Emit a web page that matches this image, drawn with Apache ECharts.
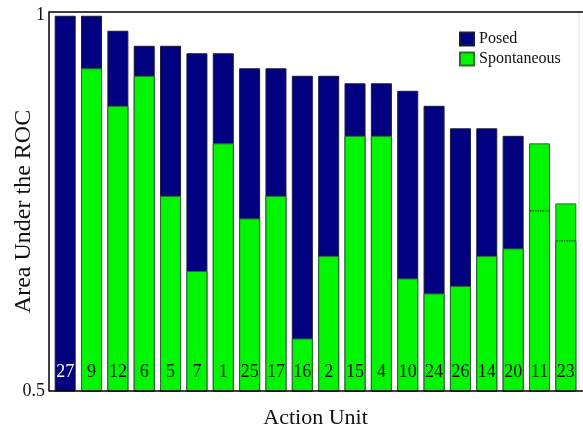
<!DOCTYPE html>
<html>
<head>
<meta charset="utf-8">
<script src="https://cdn.jsdelivr.net/npm/echarts@6/dist/echarts.min.js"></script>
<style>
  html, body { margin: 0; padding: 0; background: #fff; }
  #chart { width: 583px; height: 430px; }
</style>
</head>
<body>
<div id="chart"></div>
<script>
// Action units, sorted by posed AUC
const actionUnits = ['27', '9', '12', '6', '5', '7', '1', '25', '17', '16', '2', '15', '4', '10', '24', '26', '14', '20', '11', '23'];
const posedAUC = [1.00, 1.00, 0.98, 0.96, 0.96, 0.95, 0.95, 0.93, 0.93, 0.92, 0.92, 0.91, 0.91, 0.90, 0.88, 0.85, 0.85, 0.84, 0.74, 0.70];
const spontaneousAUC = [null, 0.93, 0.88, 0.92, 0.76, 0.66, 0.83, 0.73, 0.76, 0.57, 0.68, 0.84, 0.84, 0.65, 0.63, 0.64, 0.68, 0.69, 0.83, 0.75];
const yTicks = [0.5, 1];

// posed values hidden behind a taller spontaneous bar get a dotted marker
const hiddenPosed = actionUnits
  .map((au, i) => (spontaneousAUC[i] != null && posedAUC[i] < spontaneousAUC[i]) ? [i, posedAUC[i]] : null)
  .filter(d => d);

const serif = 'Liberation Serif';
const chart = echarts.init(document.getElementById('chart'));

chart.setOption({
  animation: false,
  textStyle: { fontFamily: serif },
  grid: { left: 52, top: 12, width: 527, bottom: 39, containLabel: false, outerBoundsMode: 'none' },
  legend: {
    orient: 'vertical',
    left: 454, top: 26,
    icon: 'rect',
    itemWidth: 14, itemHeight: 13, itemGap: 4,
    textStyle: { fontFamily: serif, fontSize: 16, color: '#111' },
    data: ['Posed', 'Spontaneous']
  },
  xAxis: {
    type: 'category',
    data: actionUnits,
    name: 'Action Unit',
    nameLocation: 'middle',
    nameGap: 16,
    nameMoveOverlap: false,
    nameTextStyle: { fontFamily: serif, fontSize: 22, color: '#111' },
    axisLine: { show: false },
    axisTick: { show: false },
    axisLabel: {
      inside: true,
      margin: 10,
      interval: 0,
      fontFamily: serif,
      fontSize: 18,
      color: (v, i) => (spontaneousAUC[i] == null ? '#fff' : '#111')
    },
    z: 10
  },
  yAxis: {
    type: 'value',
    min: 0.5,
    max: 1.005,
    offset: 3,
    name: 'Area Under the ROC',
    nameLocation: 'middle',
    nameGap: 13,
    nameMoveOverlap: false,
    nameTextStyle: { fontFamily: serif, fontSize: 24, color: '#111', padding: [0, 20, 0, 0] },
    splitLine: { show: false },
    axisTick: { show: false },
    axisLine: { show: true, lineStyle: { color: '#000', width: 1.5 } },
    axisLabel: {
      customValues: yTicks,
      margin: 4,
      fontFamily: serif,
      fontSize: 18,
      color: '#111',
      formatter: v => String(v)
    }
  },
  graphic: [
    { type: 'line', shape: { x1: 49, y1: 12, x2: 583, y2: 12 }, style: { stroke: '#000', lineWidth: 1.5 }, z: 100 },
    { type: 'line', shape: { x1: 49, y1: 391, x2: 583, y2: 391 }, style: { stroke: '#000', lineWidth: 1.5 }, z: 100 },
    { type: 'line', shape: { x1: 579, y1: 12, x2: 579, y2: 391 }, style: { stroke: '#e4e4e4', lineWidth: 1 }, z: 0 }
  ],
  series: [
    {
      name: 'Posed',
      type: 'bar',
      data: posedAUC,
      barWidth: 21,
      barGap: '-100%',
      z: 2,
      itemStyle: { color: '#000080', borderColor: '#1a1a3a', borderWidth: 1 }
    },
    {
      name: 'Spontaneous',
      type: 'bar',
      data: spontaneousAUC,
      barWidth: 21,
      z: 3,
      itemStyle: { color: '#00f500', borderColor: '#2e6b2e', borderWidth: 1 }
    },
    {
      name: 'Posed marker',
      type: 'custom',
      data: hiddenPosed,
      z: 5,
      renderItem: (params, api) => {
        const p = api.coord([api.value(0), api.value(1)]);
        const w = api.size([1, 0])[0] * 0.8;
        return {
          type: 'line',
          shape: { x1: p[0] - w / 2 + 1, y1: p[1], x2: p[0] + w / 2 - 1, y2: p[1] },
          style: { stroke: '#222', lineWidth: 1, lineDash: [1.5, 1] }
        };
      }
    }
  ]
});
</script>
</body>
</html>
